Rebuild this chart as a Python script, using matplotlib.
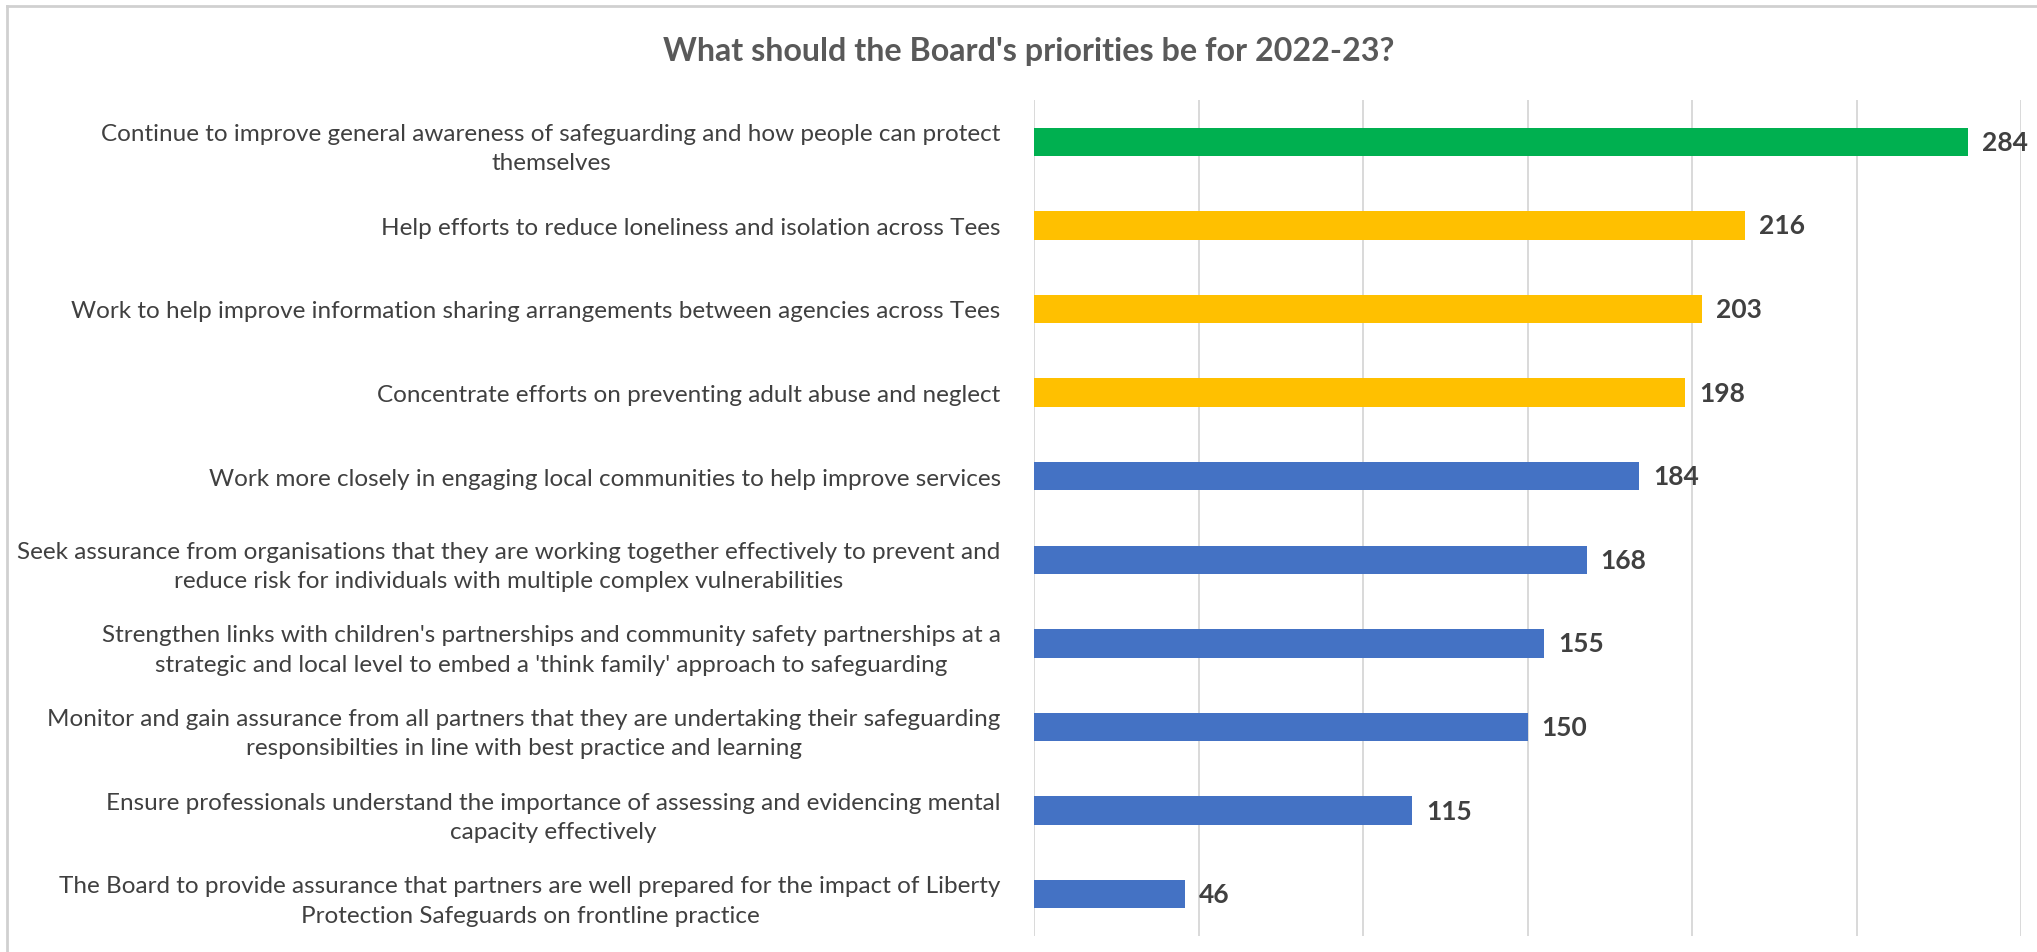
import matplotlib
matplotlib.use('Agg')
import matplotlib.pyplot as plt
from matplotlib.lines import Line2D

title = "What should the Board's priorities be for 2022-23?"
categories = [
    "Continue to improve general awareness of safeguarding and how people can protect\nthemselves",
    "Help efforts to reduce loneliness and isolation across Tees",
    "Work to help improve information sharing arrangements between agencies across Tees",
    "Concentrate efforts on preventing adult abuse and neglect",
    "Work more closely in engaging local communities to help improve services",
    "Seek assurance from organisations that they are working together effectively to prevent and\nreduce risk for individuals with multiple complex vulnerabilities",
    "Strengthen links with children's partnerships and community safety partnerships at a\nstrategic and local level to embed a 'think family' approach to safeguarding",
    "Monitor and gain assurance from all partners that they are undertaking their safeguarding\nresponsibilties in line with best practice and learning",
    "Ensure professionals understand the importance of assessing and evidencing mental\ncapacity effectively",
    "The Board to provide assurance that partners are well prepared for the impact of Liberty\nProtection Safeguards on frontline practice",
]
values = [284, 216, 203, 198, 184, 168, 155, 150, 115, 46]
bar_colors = ['#00B050', '#FFC000', '#FFC000', '#FFC000',
              '#4472C4', '#4472C4', '#4472C4', '#4472C4', '#4472C4', '#4472C4']
x_ticks = [0, 50, 100, 150, 200, 250, 300]

plt.rcParams['font.family'] = ['Lato', 'DejaVu Sans']

W, H = 2037, 953
fig = plt.figure(figsize=(W / 100, H / 100), dpi=100)
fig.patch.set_facecolor('white')
renderer = fig.canvas.get_renderer()

def fit_size(text, target_px, weight='normal'):
    t = fig.text(0, 0, text, fontsize=10, fontweight=weight)
    w = t.get_window_extent(renderer=renderer).width
    t.remove()
    return 10 * target_px / w

# longest label line should span ~986 px
label_fs = fit_size("Seek assurance from organisations that they are working together effectively to prevent and", 986)
title_fs = fit_size(title, 734, 'bold')

ax = fig.add_axes([1034 / W, 16 / H, (2021 - 1034) / W, (937 - 101) / H])
ypos = list(range(len(categories)))
ax.barh(ypos, values, height=0.34, color=bar_colors, zorder=3)
ax.set_xlim(0, 300)
ax.set_ylim(len(categories) - 0.5, -0.5)
ax.set_xticks(x_ticks)
ax.set_xticklabels([])
ax.grid(axis='x', color='#D9D9D9', linewidth=1.4, zorder=0)
ax.set_axisbelow(True)
for s in ax.spines.values():
    s.set_visible(False)
ax.tick_params(axis='both', length=0)
ax.set_yticks(ypos)
ax.set_yticklabels(categories, fontsize=label_fs, color='#404040',
                   multialignment='center', linespacing=1.5)
ax.tick_params(axis='y', pad=24)

for yv, v in zip(ypos, values):
    ax.annotate(str(v), xy=(v, yv), xytext=(14, 0), textcoords='offset pixels',
                ha='left', va='center', fontsize=19, fontweight='bold',
                color='#404040')

fig.text(1029 / W, 1 - 52 / H, title, ha='center', va='center',
         fontsize=title_fs, fontweight='bold', color='#595959')

# outer chart frame (top and left visible)
fig.add_artist(Line2D([7 / W, 1.0], [1 - 7 / H, 1 - 7 / H], color='#D0D0D0', lw=2))
fig.add_artist(Line2D([7 / W, 7 / W], [0, 1 - 7 / H], color='#D0D0D0', lw=2))

fig.savefig('out.png', dpi=100, facecolor='white')
